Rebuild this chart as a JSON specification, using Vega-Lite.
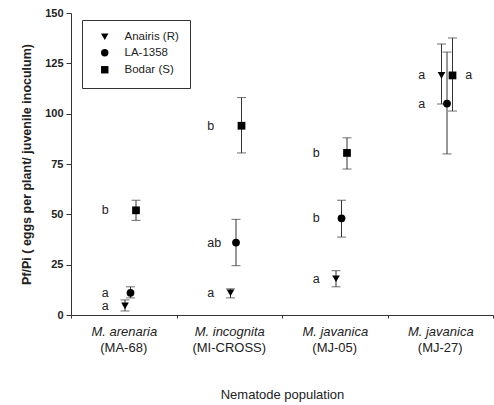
{
  "$schema": "https://vega.github.io/schema/vega-lite/v6.json",
  "autosize": "none",
  "width": 422,
  "height": 302,
  "padding": {"left": 71, "top": 13, "right": 1, "bottom": 90},
  "background": "white",
  "config": {
    "view": {"stroke": null},
    "font": "Liberation Sans",
    "axis": {"grid": false, "domainColor": "#333", "tickColor": "#333", "labelColor": "#222", "titleColor": "#222"},
    "axisY": {"labelFontSize": 11, "labelFontWeight": "bold", "tickSize": 5, "labelPadding": 3, "titleFontSize": 12.5, "titleFontWeight": "bold", "titlePadding": 11}
  },
  "data": {"values": [
    {"population": "MA-68", "cultivar": "Anairis (R)", "mean": 4.5, "lo": 2, "hi": 7.5, "letter": "a", "side": "L"},
    {"population": "MA-68", "cultivar": "LA-1358", "mean": 11, "lo": 8.5, "hi": 14, "letter": "a", "side": "L"},
    {"population": "MA-68", "cultivar": "Bodar (S)", "mean": 52, "lo": 47, "hi": 57, "letter": "b", "side": "L"},
    {"population": "MI-CROSS", "cultivar": "Anairis (R)", "mean": 11, "lo": 8.5, "hi": 13, "letter": "a", "side": "L"},
    {"population": "MI-CROSS", "cultivar": "LA-1358", "mean": 36, "lo": 24.5, "hi": 47.5, "letter": "ab", "side": "L"},
    {"population": "MI-CROSS", "cultivar": "Bodar (S)", "mean": 94, "lo": 80.5, "hi": 108, "letter": "b", "side": "L"},
    {"population": "MJ-05", "cultivar": "Anairis (R)", "mean": 18, "lo": 14, "hi": 22, "letter": "a", "side": "L"},
    {"population": "MJ-05", "cultivar": "LA-1358", "mean": 48, "lo": 38.7, "hi": 57, "letter": "b", "side": "L"},
    {"population": "MJ-05", "cultivar": "Bodar (S)", "mean": 80.5, "lo": 72.5, "hi": 88, "letter": "b", "side": "L"},
    {"population": "MJ-27", "cultivar": "Anairis (R)", "mean": 119, "lo": 104.8, "hi": 134.6, "letter": "a", "side": "L"},
    {"population": "MJ-27", "cultivar": "LA-1358", "mean": 105, "lo": 80, "hi": 130.6, "letter": "a", "side": "L"},
    {"population": "MJ-27", "cultivar": "Bodar (S)", "mean": 119, "lo": 101.3, "hi": 137.6, "letter": "a", "side": "R"}
  ]},
  "resolve": {"axis": {"x": "independent"}},
  "layer": [
    {
      "mark": {"type": "rule", "color": "#333", "strokeWidth": 1},
      "encoding": {
        "x": {"field": "population", "type": "nominal", "sort": null,
              "scale": {"paddingInner": 0, "paddingOuter": 0},
              "axis": {"orient": "bottom", "title": null, "labelAngle": 0, "labelFontSize": 13, "labelFontStyle": "italic", "tickBand": "extent", "tickSize": 3, "labelPadding": 7,
                       "labelExpr": "datum.value == 'MA-68' ? 'M. arenaria' : datum.value == 'MI-CROSS' ? 'M. incognita' : (datum.value == 'MJ-05' || datum.value == 'MJ-27') ? 'M. javanica' : ''"}},
        "xOffset": {"field": "cultivar", "type": "nominal", "sort": ["Anairis (R)", "LA-1358", "Bodar (S)"],
                    "scale": {"type": "point", "range": [54, 65], "padding": 0}},
        "y": {"field": "lo", "type": "quantitative", "scale": {"domain": [0, 150], "nice": false}, "title": "Pf/Pi ( eggs per plant/ juvenile inoculum)",
              "axis": {"values": [0, 25, 50, 75, 100, 125, 150]}},
        "y2": {"field": "hi"}
      }
    },
    {
      "mark": {"type": "tick", "color": "#333", "size": 9, "thickness": 1},
      "encoding": {
        "x": {"field": "population", "type": "nominal", "sort": null, "axis": null},
        "xOffset": {"field": "cultivar", "type": "nominal", "sort": ["Anairis (R)", "LA-1358", "Bodar (S)"]},
        "y": {"field": "lo", "type": "quantitative", "title": "Pf/Pi ( eggs per plant/ juvenile inoculum)"}
      }
    },
    {
      "mark": {"type": "tick", "color": "#333", "size": 9, "thickness": 1},
      "encoding": {
        "x": {"field": "population", "type": "nominal", "sort": null, "axis": null},
        "xOffset": {"field": "cultivar", "type": "nominal", "sort": ["Anairis (R)", "LA-1358", "Bodar (S)"]},
        "y": {"field": "hi", "type": "quantitative", "title": "Pf/Pi ( eggs per plant/ juvenile inoculum)"}
      }
    },
    {
      "mark": {"type": "point", "filled": true, "opacity": 1, "size": 60, "color": "black"},
      "encoding": {
        "x": {"field": "population", "type": "nominal", "sort": null, "axis": null},
        "xOffset": {"field": "cultivar", "type": "nominal", "sort": ["Anairis (R)", "LA-1358", "Bodar (S)"]},
        "y": {"field": "mean", "type": "quantitative", "title": "Pf/Pi ( eggs per plant/ juvenile inoculum)"},
        "shape": {"field": "cultivar", "type": "nominal",
                  "scale": {"domain": ["Anairis (R)", "LA-1358", "Bodar (S)"], "range": ["triangle-down", "circle", "square"]},
                  "legend": {"title": null, "orient": "none", "legendX": 11, "legendY": 7, "strokeColor": "#333", "fillColor": "white",
                             "padding": 11, "labelFontSize": 11.5, "labelColor": "#222", "symbolFillColor": "black", "symbolStrokeColor": "black",
                             "symbolSize": 55, "symbolOffset": 6, "rowPadding": 3, "labelOffset": 14, "offset": 0}}
      }
    },
    {
      "transform": [{"filter": "datum.side == 'L'"}],
      "mark": {"type": "text", "align": "left", "baseline": "middle", "dx": -22, "fontSize": 12.5, "color": "#222"},
      "encoding": {
        "x": {"field": "population", "type": "nominal", "sort": null,
              "axis": {"orient": "bottom", "title": "Nematode population", "titleFontSize": 13, "titleFontWeight": "normal", "titlePadding": 34,
                       "domain": false, "ticks": false, "labelAngle": 0, "labelFontSize": 13, "labelPadding": 26,
                       "labelExpr": "'(' + datum.value + ')'"}},
        "y": {"field": "mean", "type": "quantitative", "title": "Pf/Pi ( eggs per plant/ juvenile inoculum)"},
        "text": {"field": "letter"}
      }
    },
    {
      "transform": [{"filter": "datum.side == 'R'"}],
      "mark": {"type": "text", "align": "left", "baseline": "middle", "dx": 25, "fontSize": 12.5, "color": "#222"},
      "encoding": {
        "x": {"field": "population", "type": "nominal", "sort": null, "axis": null},
        "y": {"field": "mean", "type": "quantitative", "title": "Pf/Pi ( eggs per plant/ juvenile inoculum)"},
        "text": {"field": "letter"}
      }
    }
  ]
}
